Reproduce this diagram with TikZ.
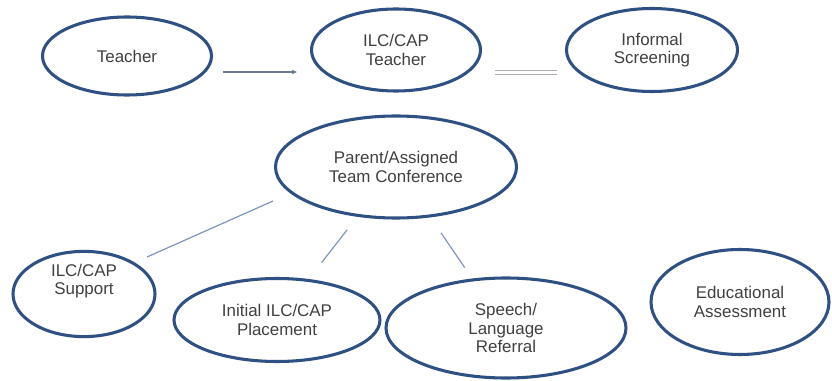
\documentclass[tikz,border=0pt]{standalone}
\usepackage{fontspec}
\setmainfont{Liberation Sans}
\usepackage{tikz}
\usetikzlibrary{shapes.geometric,arrows.meta}

\definecolor{ringblue}{RGB}{47,80,130}
\definecolor{linkblue}{RGB}{126,150,190}
\definecolor{arrowgray}{RGB}{108,122,150}
\definecolor{bargray}{RGB}{175,175,175}
\definecolor{textgray}{RGB}{64,64,64}

\begin{document}
\begin{tikzpicture}[x=0.75pt,y=0.75pt,yscale=-1,xscale=1,
  stage/.style={draw=ringblue, line width=2.3pt, ellipse, inner sep=0pt, align=center,
    text=textgray, font=\fontsize{12.7}{14}\selectfont},
  link/.style={draw=linkblue, line width=0.9pt},
  pointer/.style={draw=arrowgray, line width=0.9pt, -{Stealth[length=4pt,width=3.5pt]}},
  bar/.style={draw=bargray, double=white, double distance=2.2pt, line width=0.8pt}]
\useasboundingbox (0,0) rectangle (832,381);

%Shape: Ellipse [id:teacher]
\node [stage, minimum width=126.75pt, minimum height=58.5pt] (teacher) at (127,56) {Teacher};
%Shape: Ellipse [id:ilc]
\node [stage, minimum width=126.75pt, minimum height=61.5pt] (ilc) at (396,50) {ILC/CAP\\Teacher};
%Shape: Ellipse [id:screening]
\node [stage, minimum width=128.25pt, minimum height=62.25pt] (screening) at (652,50) {Informal\\Screening};
%Shape: Ellipse [id:conference]
\node [stage, minimum width=180.75pt, minimum height=76.5pt] (conference) at (396,167) {Parent/Assigned\\Team Conference};
%Shape: Ellipse [id:support]
\node [stage, minimum width=106.5pt, minimum height=59.25pt] (support) at (84,294) {ILC/CAP\\Support\\[8pt]};
%Shape: Ellipse [id:placement]
\node [stage, minimum width=154.5pt, minimum height=62.25pt] (placement) at (277,320) {Initial ILC/CAP\\Placement};
%Shape: Ellipse [id:speech]
\node [stage, minimum width=180pt, minimum height=75pt] (speech) at (506,328) {Speech/\\Language\\Referral};
%Shape: Ellipse [id:assessment]
\node [stage, minimum width=133.5pt, minimum height=78.75pt] (assessment) at (740,302) {Educational\\Assessment};

% free ends
\coordinate (arrowL) at (223,72);
\coordinate (arrowR) at (297,72);
\coordinate (barL) at (495,72.5);
\coordinate (barR) at (557,72.5);
\coordinate (supportA) at (273,201);
\coordinate (supportB) at (147,257);

%Straight Lines
\draw [pointer] (arrowL) -- (arrowR);
%Straight Lines
\draw [bar] (barL) -- (barR);
%Straight Lines
\draw [link] (supportA) -- (supportB);
%Straight Lines
\draw [link, shorten <=12.4pt, shorten >=15.6pt] (conference) -- (placement);
%Straight Lines
\draw [link, shorten <=14pt, shorten >=10pt] (conference) -- (speech);

\end{tikzpicture}
\end{document}
